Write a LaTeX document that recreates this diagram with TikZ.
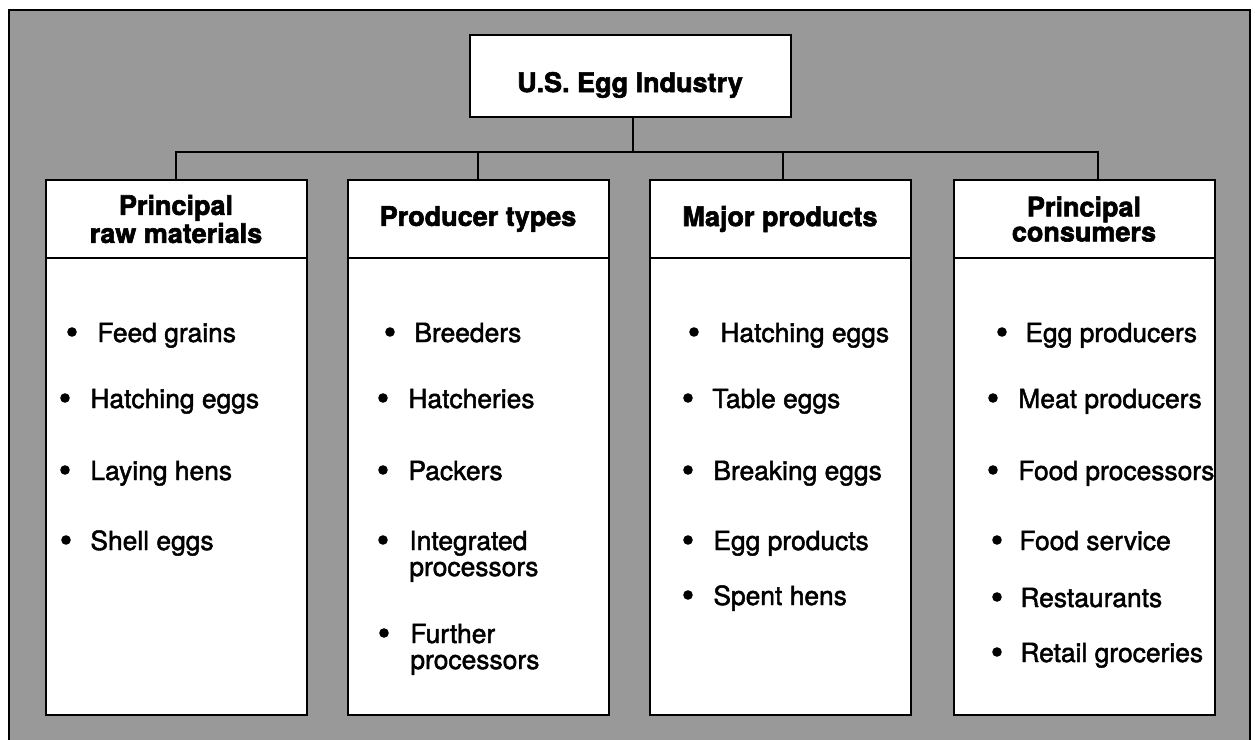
\documentclass[tikz,border=0pt]{standalone}
\usepackage{fontspec}
\setmainfont{TeX Gyre Heros}
\newfontfamily\itemfont{TeX Gyre Heros}[FakeBold=1.8]
\newfontfamily\headfont{TeX Gyre Heros}[FakeBold=2.2]
\usetikzlibrary{positioning}
\definecolor{screen}{gray}{0.6}
\tikzstyle{panel}=[draw,fill=white,line width=1pt,outer sep=0pt,inner sep=0pt,minimum width=130.5pt]
\tikzstyle{headbox}=[panel,minimum height=39pt,align=center,font=\fontsize{13.5}{12.5}\headfont\bfseries]
\tikzstyle{bodybox}=[panel,minimum height=228.5pt]
\tikzstyle{titlebox}=[panel,minimum width=160.5pt,minimum height=41pt,font=\fontsize{13.5}{12.5}\headfont\bfseries,text height=16pt,text depth=0pt]
\tikzstyle{link}=[draw,line width=0.8pt]
\tikzstyle{dot}=[circle,fill=black,inner sep=0pt,minimum size=4.8pt]
\tikzstyle{item}=[anchor=base west,inner sep=0pt,font=\fontsize{13.2}{13}\itemfont]
\newcommand{\twolines}[2]{\begin{tabular}[t]{@{}l@{}}#1\\#2\end{tabular}}

\begin{document}
\begin{tikzpicture}[x=0.5pt,y=-0.5pt]
    \useasboundingbox (0,0) rectangle (1255,740);

    % screened backdrop, open at the bottom
    \fill[screen] (9,10) rectangle (1250,740);
    \draw[line width=1.2pt] (9,740) -- (9,10) -- (1250,10) -- (1250,740);

    \node[titlebox] (title) at (630,76) {U.S. Egg Industry};

    \foreach \pos/ \name/ \head in {{(176,219)/raw/{Principal\\raw materials}}, {(478,219)/prod/{Producer types}}, {(780,219)/major/{Major products}}, {(1084,219)/cons/{Principal\\consumers}}}
        \node[headbox] (h\name) at \pos {\head};

    \foreach \name in {raw,prod,major,cons}
        \node[bodybox, below=0pt of h\name] (b\name) {};

    % tree lines from the title to the four heads
    \coordinate (bus) at (633,152);
    \draw[link] (title.south -| bus) -- (bus);
    \draw[link] (hraw.north) |- (bus) -| ([xshift=7pt]hcons.north);
    \draw[link] (hprod.north) -- (hprod.north |- bus);
    \draw[link] ([xshift=1.5pt]hmajor.north) -- ([xshift=1.5pt]hmajor.north |- bus);

    % bullet lists: bullet x / text x / baseline / text
    \foreach \bx/ \tx/ \y/ \txt [count=\i] in {72/97/342/Feed grains, 65/90/408/Hatching eggs, 65/90/480/Laying hens, 66/90/550/Shell eggs}{
        \node[dot] (rawdot\i) at (\bx,\y-10) {};
        \node[item] (raw\i) at (\tx,\y) {\txt};
    }
    \foreach \bx/ \tx/ \y/ \txt [count=\i] in {390/414/342/Breeders, 383/408/408/Hatcheries, 383/408/480/Packers, 383/409/550/{\twolines{Integrated}{processors}}, 384/410/643/{\twolines{Further}{processors}}}{
        \node[dot] (proddot\i) at (\bx,\y-10) {};
        \node[item] (prod\i) at (\tx,\y) {\txt};
    }
    \foreach \bx/ \tx/ \y/ \txt [count=\i] in {694/720/342/Hatching eggs, 688/712/408/Table eggs, 688/713/480/Breaking eggs, 688/713/550/Egg products, 688/713/605/Spent hens}{
        \node[dot] (majordot\i) at (\bx,\y-10) {};
        \node[item] (major\i) at (\tx,\y) {\txt};
    }
    \foreach \bx/ \tx/ \y/ \txt [count=\i] in {1002/1025/342/Egg producers, 993/1018/408/Meat producers, 993/1018/480/Food processors, 997/1019/550/Food service, 997/1020/607/Restaurants, 997/1020/662/Retail groceries}{
        \node[dot] (consdot\i) at (\bx,\y-10) {};
        \node[item] (cons\i) at (\tx,\y) {\txt};
    }

\end{tikzpicture}
\end{document}
